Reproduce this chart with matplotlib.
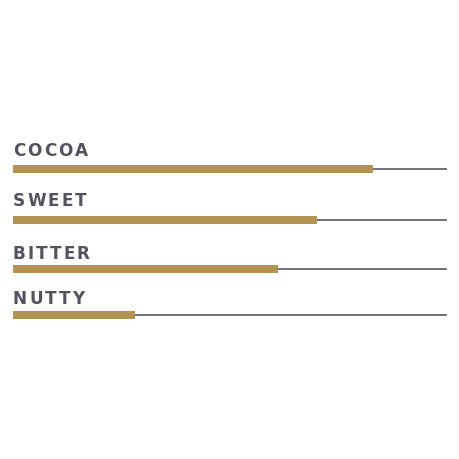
import matplotlib
matplotlib.use("Agg")
import matplotlib.pyplot as plt

# flavour profile scores (0-100)
labels = ["COCOA", "SWEET", "BITTER", "NUTTY"]
values = [83, 70, 61, 28]
max_value = 100

bar_color = "#b39352"
track_color = "#666472"
text_color = "#54525f"

# layout: row centre and label baseline in pixels from top of the 460px canvas
row_y = [170, 220.5, 270, 316]
label_y = [156, 206, 259, 304]
letter_space = 2.0  # px extra between letters

fig = plt.figure(figsize=(4.6, 4.6), dpi=100)
ax = fig.add_axes([13 / 460, 0, 434 / 460, 1])
ax.set_xlim(0, max_value)
ax.set_ylim(460, 0)
ax.axis("off")

for y, v in zip(row_y, values):
    ax.plot([0, max_value], [y, y], color=track_color, lw=1.3, solid_capstyle="butt", zorder=1)
    ax.barh(y, v, height=8, left=0, color=bar_color, zorder=2)

fig.canvas.draw()
renderer = fig.canvas.get_renderer()
inv = ax.transData.inverted()


def spaced_text(x0, y, s):
    # draw one letter at a time to get the wide tracking of the original
    x_px = ax.transData.transform((x0, y))[0]
    for ch in s:
        t = ax.text(inv.transform((x_px, 0))[0], y, ch, fontsize=12.2,
                    fontweight="bold", family="DejaVu Sans",
                    color=text_color, va="baseline", ha="left")
        w = t.get_window_extent(renderer).width
        x_px += w + letter_space


for y, lab in zip(label_y, labels):
    spaced_text(0, y, lab)

fig.savefig("out.png", dpi=100)
